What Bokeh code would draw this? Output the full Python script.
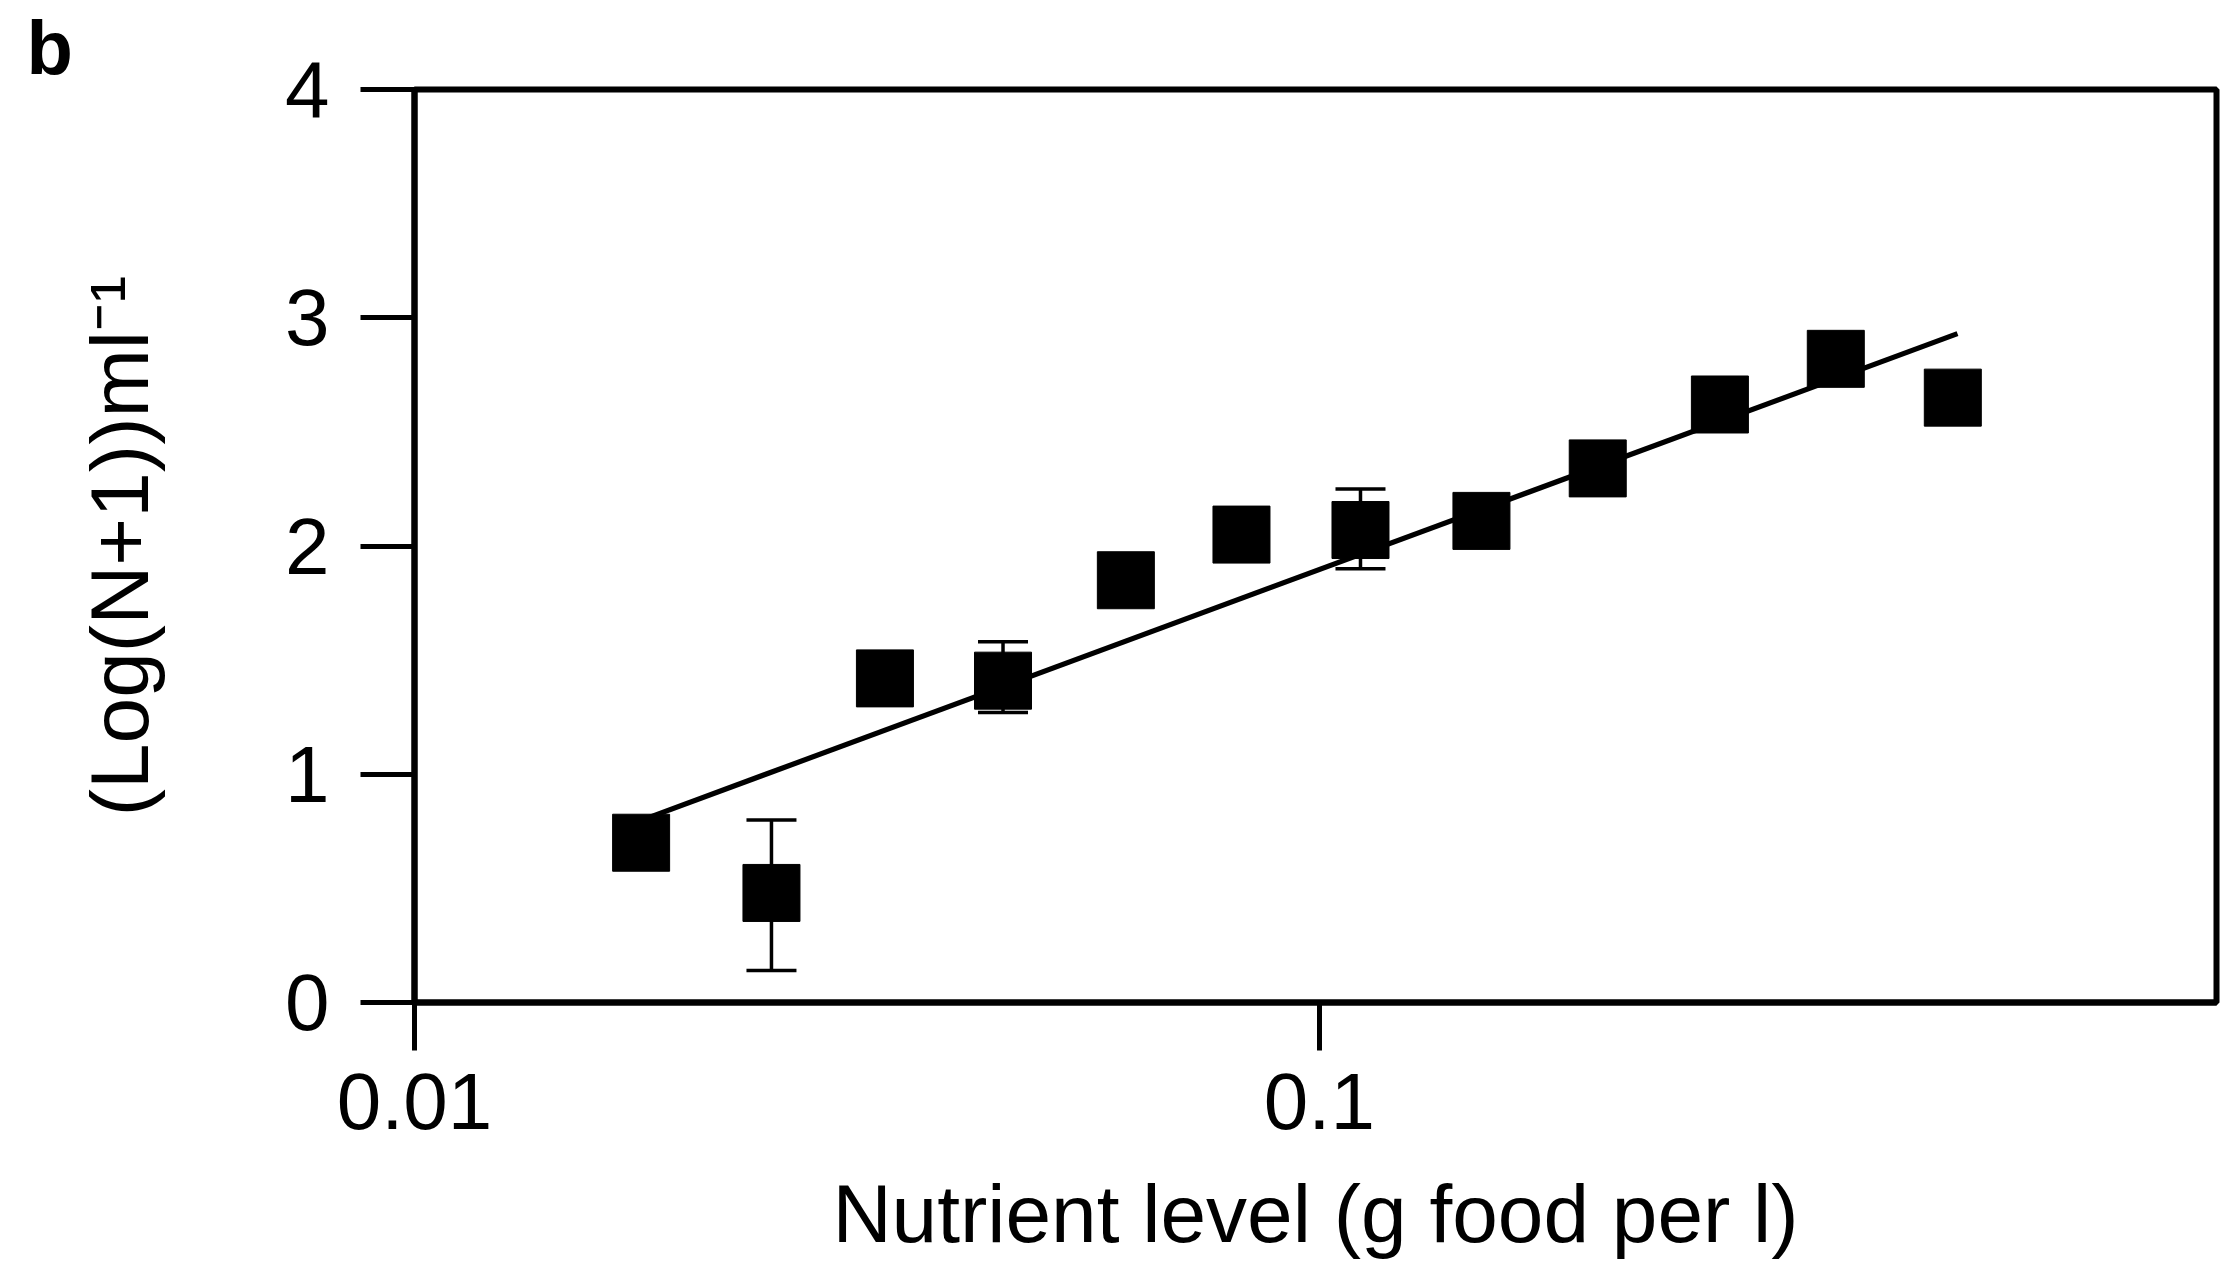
import numpy as np
from bokeh.plotting import figure
from bokeh.models import (ColumnDataSource, Whisker, TeeHead, FixedTicker,
                          NumeralTickFormatter, Range1d)
from bokeh.embed import file_html
from bokeh.resources import INLINE

# ---- data ----
nutrient = [0.0178, 0.0248, 0.0331, 0.0447, 0.0611, 0.0820, 0.111, 0.151, 0.203, 0.277, 0.372, 0.501]
log_abund = [0.70, 0.48, 1.42, 1.41, 1.85, 2.05, 2.07, 2.11, 2.34, 2.62, 2.82, 2.65]

err_x = [0.0248, 0.0447, 0.111]
err_lower = [0.14, 1.27, 1.90]
err_upper = [0.80, 1.58, 2.25]

fit_intercept = 3.363      # y at log10(x) = 0
fit_slope = 1.466          # per decade
fit_x_span = [0.0178, 0.507]

x_ticks = [0.01, 0.1, 1.0]
y_ticks = [0, 1, 2, 3, 4]

panel_letter = "b"
x_title = "Nutrient level (g food per l)"
y_title = "(Log(N+1))ml\u207b\u00b9"

FONT = "Liberation Sans"

# ---- figure ----
W, H = 2223, 1261
p = figure(width=W, height=H, x_axis_type="log",
           x_range=Range1d(0.01, 0.98), y_range=Range1d(0, 4),
           output_backend="svg", toolbar_location=None,
           min_border_left=414, min_border_right=7,
           min_border_top=89, min_border_bottom=259)

p.background_fill_color = "white"
p.border_fill_color = "white"
p.grid.visible = False
p.outline_line_color = "black"
p.outline_line_width = 6
p.outline_line_alpha = 1

# panel letter as the title, pushed to the top-left corner
p.title.text = panel_letter
p.title.text_font = FONT
p.title.text_font_style = "bold"
p.title.text_font_size = "76px"
p.title.text_color = "black"
p.title.align = "left"
p.title.vertical_align = "bottom"
p.title.standoff = 0
p.title.offset = -388

# fit line
fx = np.array(fit_x_span)
fy = fit_intercept + fit_slope * np.log10(fx)
p.line(fx, fy, line_color="black", line_width=5.2)

# error bars
esrc = ColumnDataSource(dict(x=err_x, lo=err_lower, hi=err_upper))
wh = Whisker(source=esrc, base="x", lower="lo", upper="hi",
             line_color="black", line_width=3.5,
             upper_head=TeeHead(size=50, line_width=3.5, line_color="black"),
             lower_head=TeeHead(size=50, line_width=3.5, line_color="black"))
p.add_layout(wh)

# points
src = ColumnDataSource(dict(x=nutrient, y=log_abund))
p.scatter("x", "y", source=src, marker="square", size=57,
          fill_color="black", line_color="black")

# axes
xa = p.xaxis[0]
ya = p.yaxis[0]
xa.ticker = FixedTicker(ticks=x_ticks)
xa.formatter = NumeralTickFormatter(format="0.[00]")
ya.ticker = FixedTicker(ticks=y_ticks)

for ax in (xa, ya):
    ax.axis_line_color = "black"
    ax.axis_line_width = 6
    ax.major_tick_line_color = "black"
    ax.major_tick_line_width = 5
    ax.major_tick_in = 0
    ax.minor_tick_line_color = None
    ax.major_label_text_font = FONT
    ax.major_label_text_font_size = "80px"
    ax.major_label_text_color = "black"
    ax.axis_label_text_font = FONT
    ax.axis_label_text_font_size = "82px"
    ax.axis_label_text_font_style = "normal"
    ax.axis_label_text_color = "black"

xa.major_tick_out = 48
xa.major_label_standoff = 23
xa.axis_label = x_title
xa.axis_label_standoff = 36

ya.major_tick_out = 54
ya.major_label_standoff = 31
ya.axis_label = y_title
ya.axis_label_standoff = 117

open("out.html", "w").write(file_html(p, INLINE))
